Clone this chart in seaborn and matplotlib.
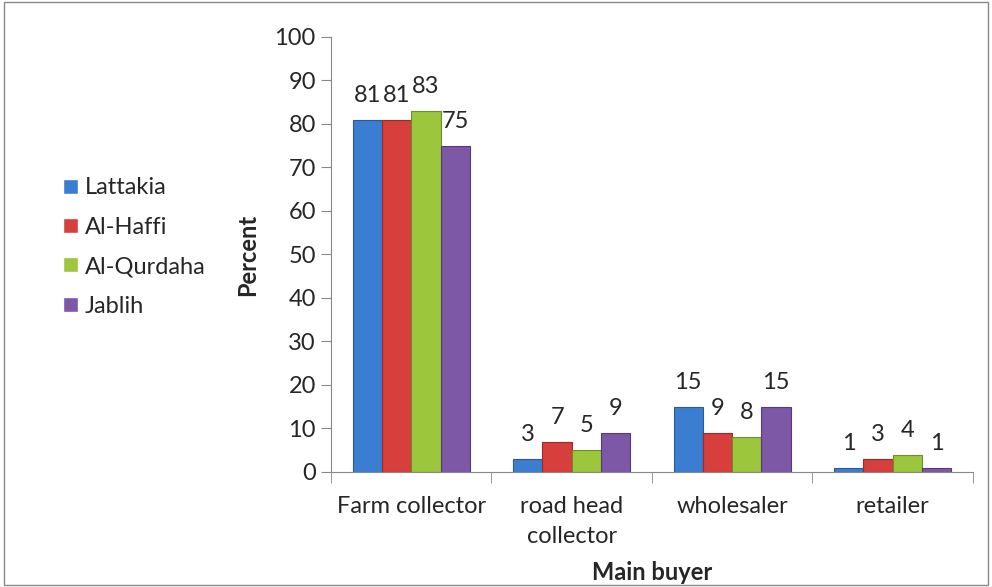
import numpy as np
import pandas as pd
import matplotlib.pyplot as plt
import seaborn as sns
from matplotlib.patches import Rectangle

# data
buyers = ['Farm collector', 'road head\ncollector', 'wholesaler', 'retailer']
regions = ['Lattakia', 'Al-Haffi', 'Al-Qurdaha', 'Jablih']
lattakia = [81, 3, 15, 1]
alhaffi = [81, 7, 9, 3]
alqurdaha = [83, 5, 8, 4]
jablih = [75, 9, 15, 1]

colors = ['#3b7dd1', '#d63f3b', '#9cc63c', '#7c58a6']
edges = ['#2a5a96', '#9a2b28', '#6f8d2a', '#553c75']

df = pd.DataFrame({
    'buyer': buyers * 4,
    'region': np.repeat(regions, 4),
    'pct': lattakia + alhaffi + alqurdaha + jablih,
})

sns.set_style('white')
plt.rcParams['font.family'] = ['Lato', 'DejaVu Sans']
fs = 17

fig = plt.figure(figsize=(9.92, 5.87), dpi=100)
ax = fig.add_axes([0.3337, 0.196, 0.647, 0.741])

sns.barplot(data=df, x='buyer', y='pct', hue='region', palette=colors,
            width=0.73, ax=ax, legend=True, saturation=1)

for i, cont in enumerate(ax.containers):
    for bar in cont:
        bar.set_edgecolor(edges[i])
        bar.set_linewidth(0.8)
    ax.bar_label(cont, labels=[str(int(v)) for v in cont.datavalues],
                 padding=10, fontsize=fs)

ax.set_ylim(0, 100)
ax.set_yticks(range(0, 101, 10))
ax.set_xlim(-0.5, 3.5)
ax.tick_params(axis='y', labelsize=fs, length=7, color='#888888', direction='out', left=True, pad=4)
ax.tick_params(axis='x', which='major', labelsize=fs, length=0, pad=17)
ax.set_xticks(np.arange(-0.5, 4, 1), minor=True)
ax.tick_params(axis='x', which='minor', length=8, color='#888888', bottom=True, direction='out')
for lab in ax.get_xticklabels():
    lab.set_linespacing(1.55)
for s in ['top', 'right']:
    ax.spines[s].set_visible(False)
for s in ['left', 'bottom']:
    ax.spines[s].set_color('#888888')

ax.set_ylabel('Percent', fontsize=fs, fontweight='bold')
ax.yaxis.set_label_coords(-0.112, 0.5)
ax.set_xlabel('Main buyer', fontsize=fs, fontweight='bold')
ax.xaxis.set_label_coords(0.5, -0.205)

leg = ax.legend(loc='center left', bbox_to_anchor=(-0.45, 0.517), frameon=False,
                fontsize=fs, handlelength=0.6, handleheight=0.6, handletextpad=0.3,
                labelspacing=0.78)

fig.patches.append(Rectangle((0.004, 0.004), 0.992, 0.992, transform=fig.transFigure,
                             fill=False, edgecolor='#888888', linewidth=1))

plt.savefig('out.png', dpi=100)
